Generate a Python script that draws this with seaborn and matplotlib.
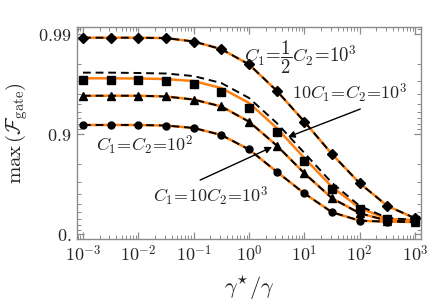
import numpy as np
import pandas as pd
import matplotlib
matplotlib.use("Agg")
import matplotlib.pyplot as plt
import seaborn as sns
from matplotlib.ticker import FixedLocator, FixedFormatter, LogLocator, NullFormatter

# gamma*/gamma sample points (half-decade steps)
ratio = [1e-3, 10**-2.5, 1e-2, 10**-1.5, 1e-1, 10**-0.5, 1, 10**0.5, 10, 10**1.5, 100, 10**2.5, 1e3]

# max gate fidelity for each configuration
fid_half = [0.9890, 0.9890, 0.9890, 0.9889, 0.9880, 0.9857, 0.9797, 0.9629, 0.9246, 0.8411, 0.6906, 0.4796, 0.3101]
fid_ten_pts = [0.9708, 0.9708, 0.9708, 0.9701, 0.9682, 0.9622, 0.9453, 0.9038, 0.8123, 0.6474, 0.4384, 0.2941, 0.2828]
fid_ten_line = [0.9721, 0.9721, 0.9720, 0.9716, 0.9703, 0.9651, 0.9509, 0.9129, 0.8267, 0.6632, 0.4550, 0.2989, 0.2828]
fid_ten_dash = [0.9755, 0.9755, 0.9753, 0.9750, 0.9735, 0.9689, 0.9562, 0.9223, 0.8455, 0.6927, 0.4796, 0.3149, 0.2828]
fid_c1ten = [0.9584, 0.9584, 0.9584, 0.9577, 0.9546, 0.9468, 0.9246, 0.8698, 0.7540, 0.5638, 0.3848, 0.2711, 0.2543]
fid_equal = [0.9187, 0.9187, 0.9187, 0.9177, 0.9129, 0.8977, 0.8574, 0.7628, 0.6092, 0.3988, 0.2711, 0.2543, 0.2491]

sns.set_style("ticks")
plt.rcParams["mathtext.fontset"] = "cm"
plt.rcParams["font.family"] = ["DejaVu Serif"]

fig = plt.figure(figsize=(4.32, 3.07), dpi=100)
ax = fig.add_axes([0.178, 0.2215, 0.797, 0.6905])


def fwd(f):
    f = np.asarray(f, dtype=float)
    return -np.log10(np.clip(1 - f, 1e-12, None))


def inv(v):
    return 1 - 10 ** (-np.asarray(v, dtype=float))


ax.set_xscale("log")
ax.set_yscale("function", functions=(fwd, inv))

orange = "#ff7f0e"
series = [
    (fid_half, fid_half, fid_half, "D", 5),
    (fid_ten_pts, fid_ten_line, fid_ten_dash, "s", 5.5),
    (fid_c1ten, fid_c1ten, fid_c1ten, "^", 6),
    (fid_equal, fid_equal, fid_equal, "o", 5),
]
for pts, solid, dashed, mk, ms in series:
    df = pd.DataFrame({"x": ratio, "pts": pts, "solid": solid, "dashed": dashed})
    sns.lineplot(data=df, x="x", y="solid", ax=ax, color=orange, lw=1.8,
                 estimator=None, sort=False, zorder=2)
    ax.plot(df["x"], df["pts"], ls="none", marker=mk, ms=ms, color="black", zorder=3)
    sns.lineplot(data=df, x="x", y="dashed", ax=ax, color="black", lw=1.4,
                 estimator=None, sort=False, zorder=4, dashes=False)
    ax.lines[-1].set_dashes([4, 2.5])

ax.set_xlim(10**-3.11, 10**3.11)
ax.set_ylim(inv(-0.045), inv(2.065))

# ticks
ax.xaxis.set_major_locator(FixedLocator([1e-3, 1e-2, 1e-1, 1, 10, 100, 1e3]))
ax.xaxis.set_major_formatter(FixedFormatter([r"$10^{-3}$", r"$10^{-2}$", r"$10^{-1}$",
                                              r"$10^{0}$", r"$10^{1}$", r"$10^{2}$", r"$10^{3}$"]))
ax.xaxis.set_minor_locator(LogLocator(base=10, subs=np.arange(2, 10), numticks=20))
ax.xaxis.set_minor_formatter(NullFormatter())
ax.yaxis.set_major_locator(FixedLocator([0.0, 0.9, 0.99]))
ax.yaxis.set_major_formatter(FixedFormatter([r"$0.$", r"$0.9$", r"$0.99$"]))
ymin = [0.1 * k for k in range(1, 9)] + [0.9 + 0.01 * k for k in range(1, 9)] + [0.991]
ax.yaxis.set_minor_locator(FixedLocator(ymin))
ax.yaxis.set_minor_formatter(NullFormatter())

gray = "#8c8c8c"
for s in ax.spines.values():
    s.set_color(gray)
    s.set_linewidth(1.0)
ax.tick_params(which="both", direction="in", top=True, right=True, color=gray,
               labelsize=13, pad=4)
ax.tick_params(which="major", length=5, width=0.9)
ax.tick_params(which="minor", length=2.8, width=0.7)

ax.set_xlabel(r"$\gamma^{\star}/\gamma$", fontsize=16, labelpad=6)
ax.set_ylabel(r"$\max\,(\mathcal{F}_{\rm gate})$", fontsize=15, labelpad=6)

# annotations
ax.text(0.648, 0.858, r"$C_1\!=\!\dfrac{1}{2}C_2\!=\!10^3$", transform=ax.transAxes,
        ha="center", va="center", fontsize=13.5)
ax.text(0.794, 0.689, r"$10C_1\!=\!C_2\!=\!10^3$", transform=ax.transAxes,
        ha="center", va="center", fontsize=13)
ax.text(0.198, 0.443, r"$C_1\!=\!C_2\!=\!10^2$", transform=ax.transAxes,
        ha="center", va="center", fontsize=13)
ax.text(0.39, 0.203, r"$C_1\!=\!10C_2\!=\!10^3$", transform=ax.transAxes,
        ha="center", va="center", fontsize=13)
arrow = dict(arrowstyle="-|>", color="black", lw=1.0, mutation_scale=10,
             shrinkA=0, shrinkB=0)
ax.annotate("", xy=(0.613, 0.481), xytext=(0.823, 0.613), xycoords="axes fraction",
            textcoords="axes fraction", arrowprops=arrow)
ax.annotate("", xy=(0.567, 0.434), xytext=(0.358, 0.278), xycoords="axes fraction",
            textcoords="axes fraction", arrowprops=arrow)

fig.savefig("out.png", dpi=100)
